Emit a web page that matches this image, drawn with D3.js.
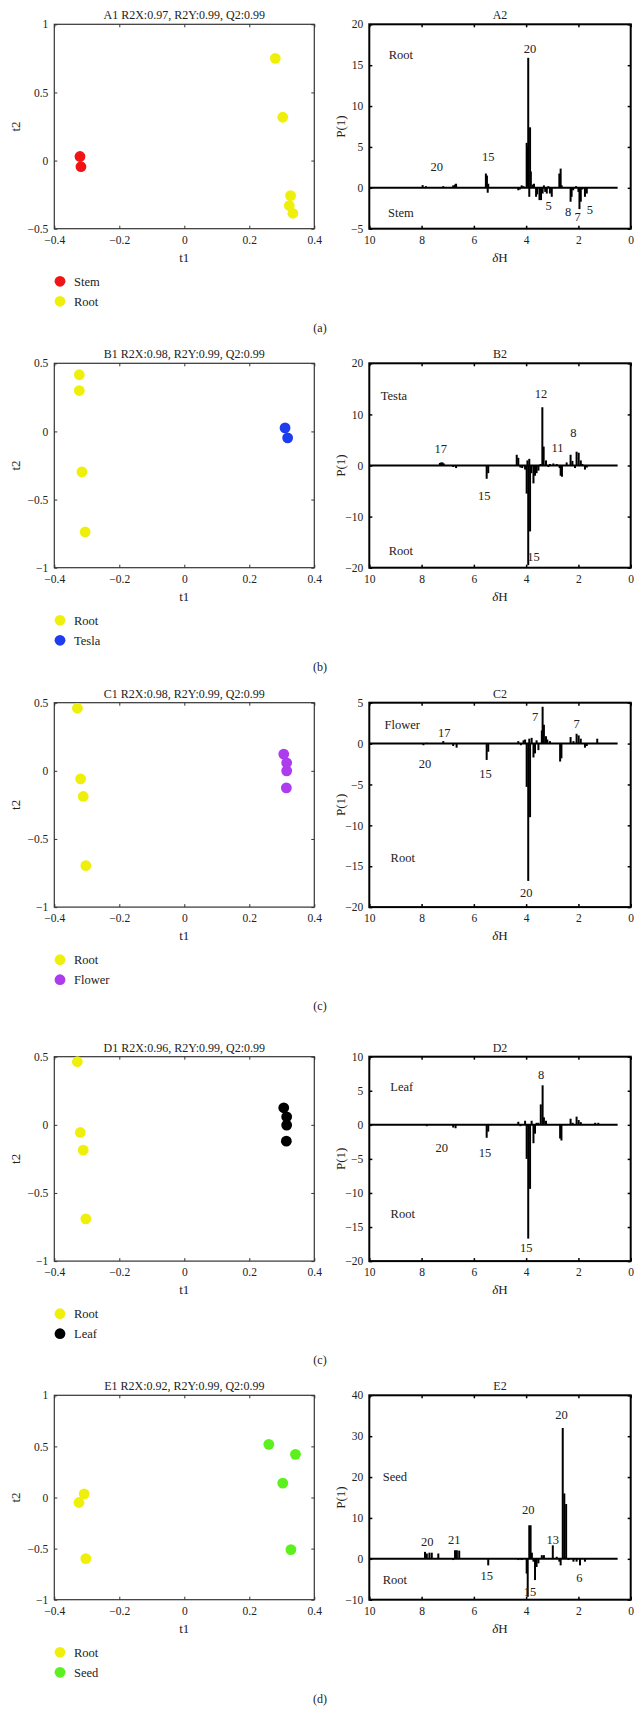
<!DOCTYPE html>
<html><head><meta charset="utf-8">
<script src="https://cdn.jsdelivr.net/npm/d3@7"></script>
<style>
html,body{margin:0;padding:0;background:#fff;}
svg text{font-family:"Liberation Serif","Times New Roman",serif;fill:#222;}
</style></head>
<body>
<svg id="chart" width="640" height="1723" font-family="Liberation Serif, serif"></svg>
<script>
// ---------------- DATA ----------------
const panelLetters = ["A","B","C","D","E"];
const captions = ["(a)","(b)","(c)","(c)","(d)"];
const scoreStats = [
  "R2X:0.97, R2Y:0.99, Q2:0.99",
  "R2X:0.98, R2Y:0.99, Q2:0.99",
  "R2X:0.98, R2Y:0.99, Q2:0.99",
  "R2X:0.96, R2Y:0.99, Q2:0.99",
  "R2X:0.92, R2Y:0.99, Q2:0.99"
];
const groupNames = [["Stem","Root"],["Root","Tesla"],["Root","Flower"],["Root","Leaf"],["Root","Seed"]];
const groupColors = [["#f01414","#eef00c"],["#eef00c","#1e3cf0"],["#eef00c","#ac3ced"],["#eef00c","#000000"],["#eef00c","#5cf01e"]];

const t1Ticks = [-0.4,-0.2,0,0.2,0.4];
const t2Domains = [[-0.5,1],[-1,0.5],[-1,0.5],[-1,0.5],[-1,1]];
const t2TickSets = [[-0.5,0,0.5,1],[-1,-0.5,0,0.5],[-1,-0.5,0,0.5],[-1,-0.5,0,0.5],[-1,-0.5,0,0.5,1]];

// score points: group 1 and group 2 (t1, t2)
const A1_g1_t1 = [-0.321,-0.318], A1_g1_t2 = [0.03,-0.045];
const A1_g2_t1 = [0.280,0.303,0.327,0.323,0.334], A1_g2_t2 = [0.75,0.318,-0.257,-0.33,-0.387];
const B1_g1_t1 = [-0.323,-0.323,-0.315,-0.305], B1_g1_t2 = [0.416,0.30,-0.297,-0.738];
const B1_g2_t1 = [0.310,0.318], B1_g2_t2 = [0.026,-0.047];
const C1_g1_t1 = [-0.329,-0.319,-0.311,-0.303], C1_g1_t2 = [0.459,-0.059,-0.188,-0.696];
const C1_g2_t1 = [0.306,0.315,0.315,0.314], C1_g2_t2 = [0.123,0.059,0.0,-0.125];
const D1_g1_t1 = [-0.329,-0.320,-0.311,-0.303], D1_g1_t2 = [0.463,-0.056,-0.186,-0.69];
const D1_g2_t1 = [0.306,0.315,0.315,0.314], D1_g2_t2 = [0.125,0.059,-0.002,-0.12];
const E1_g1_t1 = [-0.308,-0.324,-0.303], E1_g1_t2 = [0.036,-0.049,-0.598];
const E1_g2_t1 = [0.260,0.342,0.303,0.328], E1_g2_t2 = [0.52,0.422,0.14,-0.51];

// loading plots P(1) vs chemical shift
const shiftTicks = [10,8,6,4,2,0];
const pDomains = [[-5,20],[-20,20],[-20,5],[-20,10],[-10,40]];
const pTickSets = [[-5,0,5,10,15,20],[-20,-10,0,10,20],[-20,-15,-10,-5,0,5],[-20,-15,-10,-5,0,5,10],[-10,0,10,20,30,40]];

const A2_ppm = [7.96,7.83,7.17,6.79,6.72,6.68,5.54,5.5,5.47,5.45,4.3,4.24,4.17,4.1,3.98,3.95,3.92,3.88,3.85,3.82,3.75,3.7,3.62,3.58,3.49,3.43,3.37,3.32,3.27,3.21,3.15,3.09,3.02,2.73,2.68,2.64,2.3,2.26,2.2,2.09,2.0,1.96,1.91,1.85,1.75,1.68];
const A2_val = [0.33,0.2,0.2,0.3,0.4,0.5,1.75,1.5,-0.6,0.5,-0.3,-0.2,0.3,0.2,5.5,5.0,15.9,-1.1,7.4,2.0,0.4,0.5,-1.1,-0.8,-1.5,-1.5,-0.7,0.3,-0.5,-0.7,0.2,-0.7,-1.1,1.75,2.35,0.3,-1.7,-1.1,-0.3,0.2,-0.5,-2.6,-1.7,-0.2,-1.1,-0.7];
const B2_ppm = [7.3,7.25,7.2,7.15,6.79,6.68,5.51,5.45,4.36,4.3,4.22,4.15,4.04,3.98,3.95,3.92,3.88,3.85,3.8,3.72,3.66,3.6,3.53,3.45,3.38,3.33,3.24,3.15,3.09,2.96,2.83,2.72,2.68,2.63,2.45,2.3,2.23,2.13,2.07,1.99,1.91,1.85,1.75,1.68];
const B2_val = [0.5,0.6,0.6,0.4,-0.3,-0.5,-2.6,-1.5,2.1,1.5,-0.4,-0.5,-0.8,-5.5,1.0,-19.5,1.3,-12.9,-1.5,-3.5,-2.0,-1.5,-1.0,0.3,11.4,3.7,1.0,-0.3,0.3,0.4,0.3,-0.5,-2.0,-2.2,0.6,2.1,0.9,-0.5,2.7,2.5,1.0,0.3,-0.8,-0.4];
const C2_ppm = [7.93,7.8,7.17,6.79,6.66,5.51,5.45,4.3,4.2,4.1,4.04,3.98,3.92,3.88,3.85,3.79,3.72,3.66,3.6,3.53,3.4,3.37,3.32,3.24,3.19,3.09,2.7,2.65,2.3,2.19,2.07,1.99,1.91,1.75,1.68,1.28];
const C2_val = [-0.2,0.1,0.3,-0.3,-0.5,-2.0,-1.0,0.3,-0.2,0.4,0.5,-5.3,-16.8,0.6,-9.0,0.7,-1.7,-1.2,0.4,-0.8,1.6,4.5,2.3,0.9,0.5,0.3,-2.2,-1.8,0.8,0.3,1.2,1.0,0.6,-0.5,-0.3,0.6];
const D2_ppm = [7.8,6.79,6.7,5.51,5.45,4.3,4.22,4.04,3.98,3.92,3.85,3.79,3.72,3.66,3.6,3.53,3.44,3.37,3.32,3.24,2.7,2.65,2.3,2.22,2.07,1.99,1.91,1.36,1.24];
const D2_val = [-0.2,-0.4,-0.5,-1.9,-1.0,0.45,-0.2,0.6,-5.0,-16.7,-9.4,0.6,-2.7,-1.3,0.3,0.3,3.0,5.8,1.1,0.6,-2.0,-2.3,0.9,0.3,1.2,0.7,0.4,0.3,0.3];
const E2_ppm = [7.87,7.8,7.7,7.61,7.36,6.79,6.72,6.65,6.56,5.45,4.3,4.17,3.98,3.94,3.88,3.83,3.78,3.72,3.66,3.6,3.53,3.4,3.32,2.98,2.83,2.73,2.68,2.6,2.54,2.47,2.38,2.19,2.07,1.94,1.75];
const E2_val = [1.7,1.3,1.5,1.5,1.3,-0.3,2.1,2.1,2.0,-1.6,-0.3,-0.3,-3.6,-9.3,8.2,8.2,1.5,-0.7,-5.2,-2.0,-1.1,0.9,0.9,3.3,0.5,-0.7,-1.6,32,16,13.4,-0.3,-0.7,-0.7,-1.6,-0.7];

// annotations on loading plots
const A2_lblText = ["Root","Stem","20","15","20","5","8","7","5"];
const A2_lblPpm  = [8.79,8.79,7.42,5.45,3.85,3.14,2.39,2.03,1.56];
const A2_lblVal  = [16.3,-3.0,2.56,3.8,17.0,-2.2,-2.9,-3.5,-2.7];
const B2_lblText = ["Testa","Root","17","15","12","11","8","15"];
const B2_lblPpm  = [9.06,8.79,7.27,5.6,3.43,2.8,2.19,3.72];
const B2_lblVal  = [13.7,-16.6,3.4,-5.9,14.0,3.5,6.4,-17.8];
const C2_lblText = ["Flower","Root","17","20","15","7","7","20"];
const C2_lblPpm  = [8.74,8.72,7.13,7.87,5.55,3.66,2.07,4.0];
const C2_lblVal  = [2.3,-14.0,1.4,-2.4,-3.7,3.3,2.5,-18.2];
const D2_lblText = ["Leaf","Root","8","20","15","15"];
const D2_lblPpm  = [8.76,8.72,3.43,7.23,5.57,4.0];
const D2_lblVal  = [5.6,-13.1,7.3,-3.3,-4.1,-18.0];
const E2_lblText = ["Seed","Root","20","20","13","20","21","15","6","15"];
const E2_lblPpm  = [9.02,9.02,2.65,3.92,2.98,7.78,6.75,5.51,1.96,3.85];
const E2_lblVal  = [20.0,-5.2,35.3,12.0,4.7,4.3,4.8,-4.0,-4.6,-8.1];

// ---------------- BUILD TABLES ----------------
const scoreG1 = [[A1_g1_t1,A1_g1_t2],[B1_g1_t1,B1_g1_t2],[C1_g1_t1,C1_g1_t2],[D1_g1_t1,D1_g1_t2],[E1_g1_t1,E1_g1_t2]];
const scoreG2 = [[A1_g2_t1,A1_g2_t2],[B1_g2_t1,B1_g2_t2],[C1_g2_t1,C1_g2_t2],[D1_g2_t1,D1_g2_t2],[E1_g2_t1,E1_g2_t2]];
const spectra = [[A2_ppm,A2_val],[B2_ppm,B2_val],[C2_ppm,C2_val],[D2_ppm,D2_val],[E2_ppm,E2_val]];
const labels = [[A2_lblText,A2_lblPpm,A2_lblVal],[B2_lblText,B2_lblPpm,B2_lblVal],[C2_lblText,C2_lblPpm,C2_lblVal],[D2_lblText,D2_lblPpm,D2_lblVal],[E2_lblText,E2_lblPpm,E2_lblVal]];

// ---------------- LAYOUT ----------------
const svg = d3.select("#chart");
const rowTops = [24.3, 363.3, 702.7, 1056.7, 1395.3];
const plotH = 204.4;
const L = {x0:54.3, x1:314.3};
const R = {x0:369.3, x1:630.7};
const FS = 11.5;    // tick labels
const FST = 12;     // titles
const FSL = 12.5;   // legend / in-plot labels
const FSA = 13;     // axis titles
const fmt = d => d3.format("")(d).replace("-", "\u2212");

function styleAxis(g){
  g.select(".domain").remove();
  g.selectAll("text").style("font-size", FS+"px").attr("fill","#222");
}

panelLetters.forEach((P, i) => {
  const top = rowTops[i], bot = top + plotH;

  // ===== Score plot =====
  const x = d3.scaleLinear().domain([-0.4,0.4]).range([L.x0, L.x1]);
  const y = d3.scaleLinear().domain(t2Domains[i]).range([bot, top]);
  const gl = svg.append("g");
  const lineCol = "#333";

  gl.append("g").attr("transform",`translate(0,${bot})`)
    .call(d3.axisBottom(x).tickValues(t1Ticks).tickSize(-3).tickPadding(7).tickFormat(fmt))
    .call(styleAxis).selectAll("line").attr("stroke",lineCol);
  gl.append("g").attr("transform",`translate(0,${top})`)
    .call(d3.axisTop(x).tickValues(t1Ticks).tickSize(-3).tickFormat(""))
    .call(styleAxis).selectAll("line").attr("stroke",lineCol);
  gl.append("g").attr("transform",`translate(${L.x0},0)`)
    .call(d3.axisLeft(y).tickValues(t2TickSets[i]).tickSize(-3).tickPadding(6).tickFormat(fmt))
    .call(styleAxis).selectAll("line").attr("stroke",lineCol);
  gl.append("g").attr("transform",`translate(${L.x1},0)`)
    .call(d3.axisRight(y).tickValues(t2TickSets[i]).tickSize(-3).tickFormat(""))
    .call(styleAxis).selectAll("line").attr("stroke",lineCol);

  gl.append("rect").attr("x",L.x0).attr("y",top).attr("width",L.x1-L.x0).attr("height",plotH)
    .attr("fill","none").attr("stroke",lineCol).attr("stroke-width",1.2);

  [scoreG1[i], scoreG2[i]].forEach((grp, gi) => {
    const pts = grp[0].map((v,k)=>[v, grp[1][k]]);
    gl.selectAll(null).data(pts).enter().append("circle")
      .attr("cx", d=>x(d[0])).attr("cy", d=>y(d[1])).attr("r",5.4)
      .attr("fill", groupColors[i][gi]);
  });

  gl.append("text").attr("x",(L.x0+L.x1)/2).attr("y",top-9.3).attr("dy","0.35em")
    .attr("text-anchor","middle").style("font-size",FST+"px")
    .text(`${P}1 ${scoreStats[i]}`);
  gl.append("text").attr("x",(L.x0+L.x1)/2).attr("y",bot+28.5).attr("dy","0.35em")
    .attr("text-anchor","middle").style("font-size",FSA+"px").text("t1");
  gl.append("text").attr("transform",`translate(15,${top+plotH/2}) rotate(-90)`).attr("dy","0.35em")
    .attr("text-anchor","middle").style("font-size",FSA+"px").text("t2");

  groupNames[i].forEach((nm, gi) => {
    const ly = top + 257 + gi*20;
    gl.append("circle").attr("cx",60).attr("cy",ly).attr("r",5.4).attr("fill",groupColors[i][gi]);
    gl.append("text").attr("x",74).attr("y",ly).attr("dy","0.35em").style("font-size",FSL+"px").text(nm);
  });

  svg.append("text").attr("x",320).attr("y",top+303).attr("dy","0.35em")
    .attr("text-anchor","middle").style("font-size",FST+"px").text(captions[i]);

  // ===== Loading plot =====
  const xs = d3.scaleLinear().domain([10,0]).range([R.x0, R.x1]);
  const ys = d3.scaleLinear().domain(pDomains[i]).range([bot, top]);
  const gr = svg.append("g");

  gr.append("g").attr("transform",`translate(0,${bot})`)
    .call(d3.axisBottom(xs).tickValues(shiftTicks).tickSize(-3).tickPadding(7).tickFormat(fmt))
    .call(styleAxis).selectAll("line").attr("stroke","#000").attr("stroke-width",1.5);
  gr.append("g").attr("transform",`translate(0,${top})`)
    .call(d3.axisTop(xs).tickValues(shiftTicks).tickSize(-3).tickFormat(""))
    .call(styleAxis).selectAll("line").attr("stroke","#000").attr("stroke-width",1.5);
  gr.append("g").attr("transform",`translate(${R.x0},0)`)
    .call(d3.axisLeft(ys).tickValues(pTickSets[i]).tickSize(-3).tickPadding(6).tickFormat(fmt))
    .call(styleAxis).selectAll("line").attr("stroke","#000").attr("stroke-width",1.5);
  gr.append("g").attr("transform",`translate(${R.x1},0)`)
    .call(d3.axisRight(ys).tickValues(pTickSets[i]).tickSize(-3).tickFormat(""))
    .call(styleAxis).selectAll("line").attr("stroke","#000").attr("stroke-width",1.5);

  // baseline
  gr.append("line").attr("x1",xs(10)).attr("x2",xs(0.5)).attr("y1",ys(0)).attr("y2",ys(0))
    .attr("stroke","#000").attr("stroke-width",2);
  // spikes
  const sp = spectra[i][0].map((p,k)=>[p, spectra[i][1][k]]);
  gr.selectAll(null).data(sp).enter().append("line")
    .attr("x1",d=>xs(d[0])).attr("x2",d=>xs(d[0]))
    .attr("y1",ys(0)).attr("y2",d=>ys(d[1]))
    .attr("stroke","#000").attr("stroke-width",2);

  gr.append("rect").attr("x",R.x0).attr("y",top).attr("width",R.x1-R.x0).attr("height",plotH)
    .attr("fill","none").attr("stroke","#000").attr("stroke-width",2);

  const lb = labels[i][0].map((t,k)=>[t, labels[i][1][k], labels[i][2][k]]);
  gr.selectAll(null).data(lb).enter().append("text")
    .attr("x",d=>xs(d[1])).attr("y",d=>ys(d[2])).attr("dy","0.35em")
    .attr("text-anchor","middle").style("font-size",FSL+"px").text(d=>d[0]);

  gr.append("text").attr("x",(R.x0+R.x1)/2).attr("y",top-9.3).attr("dy","0.35em")
    .attr("text-anchor","middle").style("font-size",FST+"px").text(`${P}2`);
  const xl = gr.append("text").attr("x",(R.x0+R.x1)/2).attr("y",bot+28.5).attr("dy","0.35em")
    .attr("text-anchor","middle").style("font-size",FSA+"px");
  xl.append("tspan").attr("font-style","italic").text("\u03B4");
  xl.append("tspan").text("H");
  gr.append("text").attr("transform",`translate(340.7,${top+plotH/2}) rotate(-90)`).attr("dy","0.35em")
    .attr("text-anchor","middle").style("font-size",FSA+"px").text("P(1)");
});
</script>
</body></html>
